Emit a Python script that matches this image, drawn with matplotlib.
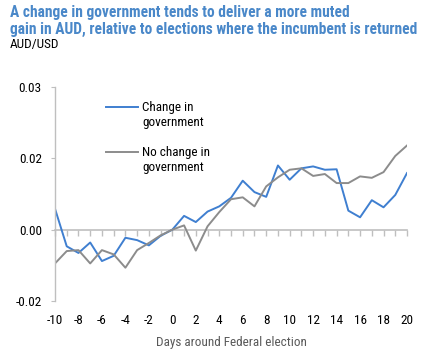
import matplotlib
matplotlib.use("Agg")
import matplotlib.pyplot as plt
from matplotlib import font_manager
from matplotlib.legend_handler import HandlerLine2D
from matplotlib.lines import Line2D

days = list(range(-10, 21))
change_gov = [0.0044, -0.0035, -0.0049, -0.0027, -0.0066, -0.0055, -0.0017, -0.0022,
              -0.0033, -0.0013, 0.0000, 0.0029, 0.0016, 0.0038, 0.0049, 0.0067,
              0.0103, 0.0079, 0.0069, 0.0135, 0.0105, 0.0129, 0.0133, 0.0126,
              0.0127, 0.0040, 0.0026, 0.0062, 0.0047, 0.0073, 0.0119]
no_change_gov = [-0.0071, -0.0045, -0.0043, -0.0071, -0.0043, -0.0052, -0.0080, -0.0043,
                 -0.0028, -0.0012, 0.0000, 0.0009, -0.0044, 0.0007, 0.0037, 0.0064,
                 0.0068, 0.0049, 0.0091, 0.0110, 0.0126, 0.0129, 0.0113, 0.0117,
                 0.0098, 0.0098, 0.0112, 0.0109, 0.0121, 0.0155, 0.0177]
y_ticks = [-0.015, 0.0, 0.015, 0.03]
y_tick_labels = ["-0.02", "0.00", "0.02", "0.03"]
x_tick_labels = list(range(-10, 21, 2))

names = {f.name for f in font_manager.fontManager.ttflist}
fam = ["Roboto Condensed", "PT Sans Narrow", "Archivo Narrow", "Liberation Sans", "DejaVu Sans"]
fam = [f for f in fam if f in names] or ["DejaVu Sans"]
plt.rcParams["font.family"] = fam

BLUE = "#3F7FD0"
GREY = "#8C8C8C"
AX = "#BFBFBF"
FS = 9.5


class TopLine(HandlerLine2D):
    def create_artists(self, legend, orig_handle, xdescent, ydescent, width, height, fontsize, trans):
        arts = super().create_artists(legend, orig_handle, xdescent, ydescent, width, height, fontsize, trans)
        for a in arts:
            if isinstance(a, Line2D):
                a.set_ydata([y + 0.62 * fontsize for y in a.get_ydata()])
        return arts


fig = plt.figure(figsize=(4.28, 3.51), dpi=100)
ax = fig.add_axes([55/428, 1-301/351, 352/428, 214/351])

l1, = ax.plot(days, change_gov, color=BLUE, lw=1.4, label="Change in\ngovernment")
l2, = ax.plot(days, no_change_gov, color=GREY, lw=1.4, label="No change in\ngovernment")

ymin, ymax = -0.015, 0.03
ax.set_xlim(-10, 20)
ax.set_ylim(ymin, ymax)
ax.set_yticks(y_ticks)
ax.set_yticklabels(y_tick_labels)
ax.set_xticks(x_tick_labels)
ax.set_xticklabels([str(v) for v in x_tick_labels])

for s in ["top", "right", "bottom"]:
    ax.spines[s].set_visible(False)
ax.spines["left"].set_color(AX)
ax.spines["left"].set_linewidth(1.0)
ax.tick_params(axis="y", length=3, color=AX, labelsize=FS, pad=6.5)
ax.tick_params(axis="x", length=0, labelsize=FS, pad=9.5)

loc0 = (0 - ymin) / (ymax - ymin)
sec = ax.secondary_xaxis(loc0)
sec.set_xticks(days)
sec.tick_params(axis="x", length=4, color=AX, width=1.0, labelbottom=False, labeltop=False, direction="out")
sec.spines["bottom"].set_color(AX)
sec.spines["bottom"].set_linewidth(1.2)

ax.set_xlabel("Days around Federal election", fontsize=FS, color="#595959", labelpad=6.5)

leg = ax.legend(handler_map={Line2D: TopLine()}, loc="upper left", bbox_to_anchor=(0.111, 0.99),
                frameon=False, fontsize=FS, handlelength=2.4, labelspacing=1.25, handletextpad=0.35)

title = fig.text(10/428, 1-5.5/351,
                 "A change in government tends to deliver a more muted\ngain in AUD, relative to elections where the incumbent is returned",
                 ha="left", va="top", fontsize=11, fontweight="bold", color="#4A88C9", linespacing=1.15)
fig.canvas.draw()
w = title.get_window_extent().width
title.set_fontsize(11 * 408.0 / w)
fig.text(10/428, 1-38/351, "AUD/USD", ha="left", va="top", fontsize=FS, color="black")

fig.savefig("out.png", dpi=100)
